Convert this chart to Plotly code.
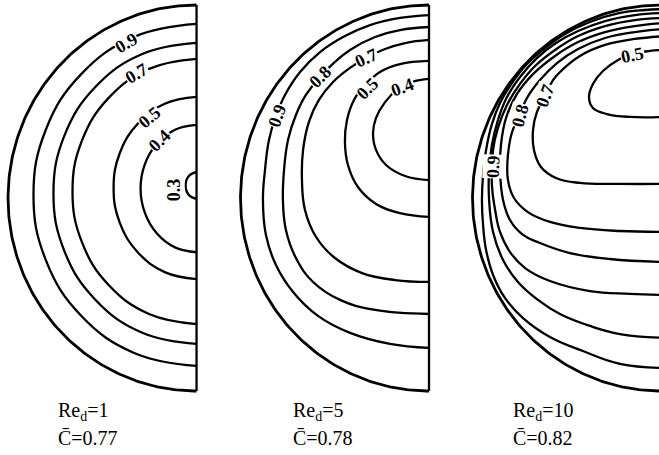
import numpy as np
import plotly.graph_objects as go

# ---------------- data (normalised droplet coordinates, r/R) ----------------
re_values = [1, 5, 10]
c_mean = ["0.77", "0.78", "0.82"]

# Panel 1 : Re_d = 1
p1_c03_x = [0, -0.041, -0.058, -0.041, 0]
p1_c03_y = [0.135, 0.114, 0.065, 0.016, -0.005]
p1_c04_x = [0, -0.114, -0.210, -0.274, -0.297, -0.274, -0.210, -0.114, 0]
p1_c04_y = [0.379, 0.354, 0.282, 0.175, 0.049, -0.077, -0.184, -0.256, -0.281]
p1_c05_x = [0, -0.169, -0.311, -0.407, -0.440, -0.407, -0.311, -0.169, 0]
p1_c05_y = [0.524, 0.488, 0.386, 0.233, 0.052, -0.129, -0.282, -0.384, -0.420]
p1_c07_x = [0, -0.252, -0.465, -0.608, -0.658, -0.608, -0.465, -0.252, 0]
p1_c07_y = [0.721, 0.669, 0.520, 0.297, 0.034, -0.229, -0.452, -0.601, -0.653]
p1_c08_x = [0, -0.291, -0.537, -0.701, -0.759, -0.701, -0.537, -0.291, 0]
p1_c08_y = [0.804, 0.745, 0.575, 0.323, 0.024, -0.275, -0.527, -0.697, -0.756]
p1_c09_x = [0, -0.331, -0.612, -0.799, -0.865, -0.799, -0.612, -0.331, 0]
p1_c09_y = [0.902, 0.835, 0.642, 0.355, 0.016, -0.323, -0.610, -0.803, -0.870]

# Panel 2 : Re_d = 5
p2_c04_x = [0, -0.090, -0.170, -0.233, -0.281, -0.297, -0.281, -0.228, -0.127, 0]
p2_c04_y = [0.617, 0.601, 0.560, 0.497, 0.415, 0.337, 0.249, 0.171, 0.114, 0.093]
p2_c05_x = [0, -0.154, -0.260, -0.340, -0.398, -0.435, -0.446, -0.430, -0.377, -0.281, -0.154, 0]
p2_c05_y = [0.710, 0.694, 0.653, 0.585, 0.508, 0.404, 0.290, 0.171, 0.057, -0.031, -0.078, -0.098]
p2_c07_x = [0, -0.127, -0.233, -0.334, -0.419, -0.509, -0.584, -0.637, -0.668, -0.674,
            -0.658, -0.599, -0.499, -0.355, -0.180, 0]
p2_c07_y = [0.819, 0.803, 0.772, 0.725, 0.674, 0.601, 0.508, 0.394, 0.249, 0.093,
            -0.062, -0.202, -0.311, -0.389, -0.425, -0.435]
p2_c08_x = [0, -0.154, -0.286, -0.419, -0.499, -0.578, -0.653, -0.706, -0.748, -0.769,
            -0.775, -0.759, -0.706, -0.615, -0.472, -0.286, 0]
p2_c08_y = [0.886, 0.870, 0.834, 0.767, 0.705, 0.627, 0.534, 0.430, 0.301, 0.145,
            -0.010, -0.166, -0.311, -0.435, -0.528, -0.580, -0.601]
p2_c09_x = [0, -0.154, -0.313, -0.446, -0.578, -0.684, -0.764, -0.812, -0.849, -0.870,
            -0.881, -0.865, -0.812, -0.721, -0.589, -0.419, -0.207, 0]
p2_c09_y = [0.948, 0.933, 0.896, 0.839, 0.756, 0.653, 0.534, 0.425, 0.301, 0.145,
            -0.010, -0.192, -0.347, -0.487, -0.611, -0.699, -0.756, -0.777]

# Panel 3 : Re_d = 10
p3_c05_x = [0.021, -0.058, -0.154, -0.228, -0.308, -0.361, -0.382, -0.361, -0.286, -0.164, 0.021]
p3_c05_y = [0.767, 0.762, 0.746, 0.715, 0.658, 0.591, 0.523, 0.466, 0.435, 0.420, 0.420]
p3_l1_x = [0.021, -0.2175, -0.430, -0.557, -0.637, -0.674, -0.679, -0.658, -0.615, -0.573,
           -0.525, -0.430, -0.297, -0.138, 0.021]
p3_l1_y = [0.073, 0.073, 0.078, 0.104, 0.161, 0.249, 0.352, 0.446, 0.528, 0.611,
           0.663, 0.736, 0.793, 0.824, 0.839]
p3_l2_x = [0.021, -0.2175, -0.430, -0.589, -0.706, -0.780, -0.812, -0.812, -0.790, -0.748,
           -0.711, -0.642, -0.552, -0.440, -0.297, -0.138, 0.021]
p3_l2_y = [-0.176, -0.171, -0.155, -0.124, -0.073, 0.000, 0.093, 0.223, 0.342, 0.435,
           0.518, 0.611, 0.699, 0.772, 0.829, 0.860, 0.876]
p3_l3_x = [0.021, -0.2706, -0.483, -0.642, -0.737, -0.801, -0.838, -0.854, -0.849, -0.822,
           -0.764, -0.679, -0.562, -0.440, -0.297, -0.138, 0.021]
p3_l3_y = [-0.332, -0.316, -0.285, -0.233, -0.187, -0.114, -0.010, 0.145, 0.275, 0.415,
           0.539, 0.642, 0.736, 0.808, 0.860, 0.891, 0.907]
p3_l4_x = [0.021, -0.164, -0.377, -0.589, -0.721, -0.801, -0.854, -0.880, -0.897, -0.891,
           -0.865, -0.817, -0.748, -0.668, -0.562, -0.440, -0.297, -0.138, 0.021]
p3_l4_y = [-0.503, -0.497, -0.482, -0.430, -0.363, -0.280, -0.176, -0.062, 0.067, 0.249,
           0.363, 0.482, 0.591, 0.684, 0.767, 0.839, 0.891, 0.922, 0.933]
p3_l5_x = [0.021, -0.2175, -0.377, -0.536, -0.653, -0.759, -0.838, -0.891, -0.912, -0.912,
           -0.897, -0.865, -0.817, -0.748, -0.658, -0.557, -0.440, -0.297, -0.138, 0.021]
p3_l5_y = [-0.725, -0.705, -0.663, -0.601, -0.528, -0.435, -0.321, -0.176, -0.010, 0.145,
           0.275, 0.404, 0.523, 0.627, 0.725, 0.803, 0.865, 0.917, 0.948, 0.959]
p3_l6_x = [0.021, -0.2175, -0.414, -0.589, -0.732, -0.828, -0.891, -0.928, -0.944, -0.950,
           -0.944, -0.928, -0.897, -0.854, -0.790, -0.711, -0.615, -0.509, -0.377, -0.2175,
           -0.085, 0.021]
p3_l6_y = [-0.881, -0.860, -0.793, -0.720, -0.622, -0.518, -0.399, -0.269, -0.140, -0.010,
           0.119, 0.249, 0.383, 0.492, 0.596, 0.694, 0.777, 0.850, 0.912, 0.959,
           0.974, 0.979]

# contour label texts
p1_labels = ["0.9", "0.7", "0.5", "0.4", "0.3"]
p2_labels = ["0.9", "0.8", "0.7", "0.5", "0.4"]
p3_labels = ["0.5", "0.7", "0.8", "0.9"]

# ---------------- figure ----------------
fig = go.Figure()
LINE_W = 2.3
BND_W = 2.8


def add_line(xs, ys, axis, width=LINE_W, smooth=True):
    fig.add_trace(go.Scatter(
        x=xs, y=ys, mode="lines", xaxis=axis, yaxis="y",
        line=dict(color="black", width=width,
                  shape="spline" if smooth else "linear", smoothing=1.2),
        hoverinfo="skip", showlegend=False))


panel_curves = {
    "x": [(p1_c03_x, p1_c03_y), (p1_c04_x, p1_c04_y), (p1_c05_x, p1_c05_y),
          (p1_c07_x, p1_c07_y), (p1_c08_x, p1_c08_y), (p1_c09_x, p1_c09_y)],
    "x2": [(p2_c04_x, p2_c04_y), (p2_c05_x, p2_c05_y), (p2_c07_x, p2_c07_y),
           (p2_c08_x, p2_c08_y), (p2_c09_x, p2_c09_y)],
    "x3": [(p3_c05_x, p3_c05_y), (p3_l1_x, p3_l1_y), (p3_l2_x, p3_l2_y),
           (p3_l3_x, p3_l3_y), (p3_l4_x, p3_l4_y), (p3_l5_x, p3_l5_y),
           (p3_l6_x, p3_l6_y)],
}
for ax, curves in panel_curves.items():
    for xs, ys in curves:
        add_line(xs, ys, ax)

# droplet outline (unit circle) and symmetry axis
theta = np.linspace(np.pi / 2, 3 * np.pi / 2, 241)
for ax in ["x", "x2", "x3"]:
    add_line(np.cos(theta), np.sin(theta), ax, width=BND_W, smooth=False)
for ax in ["x", "x2"]:
    add_line([0, 0], [1, -1], ax, width=LINE_W, smooth=False)

# label placement (layout, not data)
label_pos = {
    "x": [(-0.374, 0.803, -30), (-0.316, 0.648, -30), (-0.247, 0.420, -40),
          (-0.194, 0.301, -45), (-0.119, 0.041, -90)],
    "x2": [(-0.806, 0.425, -70), (-0.578, 0.627, -45), (-0.334, 0.725, -25),
           (-0.324, 0.570, -45), (-0.138, 0.575, -20)],
    "x3": [(-0.149, 0.741, -12), (-0.615, 0.528, -70), (-0.748, 0.425, -75),
           (-0.891, 0.161, -88)],
}
label_text = {"x": p1_labels, "x2": p2_labels, "x3": p3_labels}
annotations = []
for ax in ["x", "x2", "x3"]:
    for txt, (lx, ly, ang) in zip(label_text[ax], label_pos[ax]):
        annotations.append(dict(
            x=lx, y=ly, xref=ax, yref="y", text="<b>%s</b>" % txt,
            showarrow=False, textangle=ang, bgcolor="white", borderpad=0,
            font=dict(family="Liberation Serif", size=18, color="black")))

# case captions
caption_x = [56, 291, 511]
for cx, re, cm in zip(caption_x, re_values, c_mean):
    annotations.append(dict(
        x=cx / 659, y=1 - 411 / 455, xref="paper", yref="paper",
        xanchor="left", yanchor="middle", showarrow=False,
        text="Re<sub>d</sub>=%d" % re,
        font=dict(family="Liberation Serif", size=20, color="black")))
    annotations.append(dict(
        x=cx / 659, y=1 - 438 / 455, xref="paper", yref="paper",
        xanchor="left", yanchor="middle", showarrow=False,
        text="C\u0304=%s" % cm,
        font=dict(family="Liberation Serif", size=20, color="black")))

axis_common = dict(visible=False, fixedrange=True, showgrid=False, zeroline=False)
fig.update_layout(
    width=659, height=455, autosize=False,
    margin=dict(l=0, r=0, t=0, b=0),
    paper_bgcolor="white", plot_bgcolor="rgba(0,0,0,0)",
    showlegend=False,
    xaxis=dict(domain=[0.00076, 0.30396], range=[-1.04, 0.02], **axis_common),
    xaxis2=dict(domain=[0.35351, 0.65671], range=[-1.04, 0.02], **axis_common),
    xaxis3=dict(domain=[0.70556, 1.0], range=[-1.04, -0.0106], **axis_common),
    yaxis=dict(domain=[0, 1], range=[-1.3316, 1.0259], **axis_common),
    annotations=annotations,
)

fig.write_html("out.html", config={"displayModeBar": False},
               post_script="document.body.style.margin='0';"
                           "document.body.style.overflow='hidden';")
